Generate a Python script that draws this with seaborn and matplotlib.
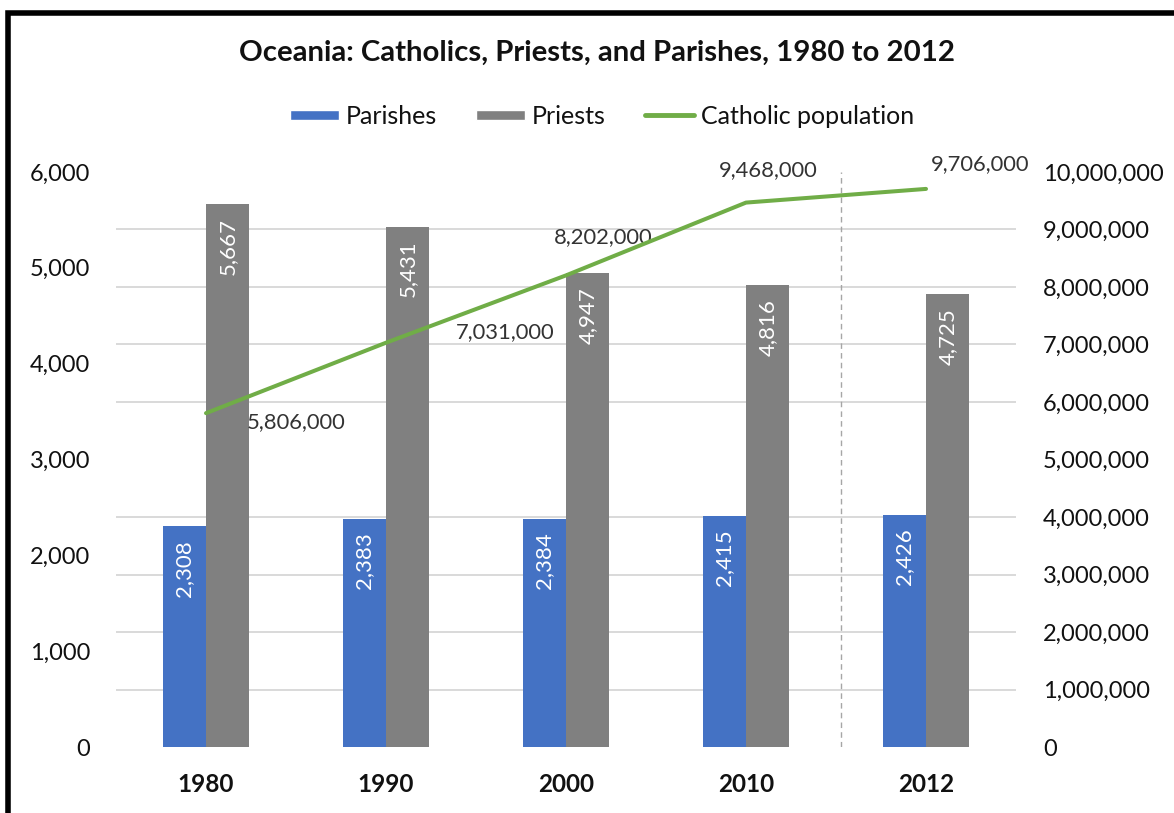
import numpy as np
import pandas as pd
import matplotlib
matplotlib.use("Agg")
import matplotlib.pyplot as plt
import seaborn as sns
from matplotlib.ticker import FuncFormatter, FixedLocator
from matplotlib.lines import Line2D
from matplotlib.patches import Patch, Rectangle
from matplotlib.legend_handler import HandlerPatch

# ---------------- data ----------------
years = ["1980", "1990", "2000", "2010", "2012"]
parishes = [2308, 2383, 2384, 2415, 2426]
priests = [5667, 5431, 4947, 4816, 4725]
population = [5806000, 7031000, 8202000, 9468000, 9706000]
series_names = ["Parishes", "Priests"]
line_name = "Catholic population"
title = "Oceania: Catholics, Priests, and Parishes, 1980 to 2012"
left_ticks = [0, 1000, 2000, 3000, 4000, 5000, 6000]
right_ticks = [0, 1000000, 2000000, 3000000, 4000000, 5000000,
               6000000, 7000000, 8000000, 9000000, 10000000]

# ---------------- style ----------------
BLUE = "#4472C4"
GRAY = "#808080"
GREEN = "#70AD47"
GRID = "#d9d9d9"
TXT = "#111111"
LBL = "#333333"

sns.set_style("white")
plt.rcParams["font.family"] = ["Lato", "DejaVu Sans"]

W, H = 1174, 813
fig = plt.figure(figsize=(W / 100, H / 100), dpi=100)
ax = fig.add_axes([116 / W, 1 - 747 / H, 900 / W, 575 / H])

df = pd.DataFrame({
    "year": years * 2,
    "series": [series_names[0]] * len(years) + [series_names[1]] * len(years),
    "value": parishes + priests,
})

sns.barplot(data=df, x="year", y="value", hue="series", hue_order=series_names,
            palette=[BLUE, GRAY], width=0.478, gap=0, saturation=1,
            linewidth=0, errorbar=None, legend=False, ax=ax, zorder=2)

ax.set_xlim(-0.5, 4.5)
ax.set_ylim(0, 6000)
ax.set_xlabel("")
ax.set_ylabel("")
ax.set_yticks(left_ticks)
ax.yaxis.set_major_formatter(FuncFormatter(lambda v, p: f"{int(v):,}"))
ax.yaxis.set_minor_locator(FixedLocator([v * 6000 / 10000000 for v in right_ticks]))
ax.yaxis.grid(True, which="minor", color=GRID, lw=1.4)
ax.yaxis.grid(False, which="major")
ax.xaxis.grid(False)
ax.set_axisbelow(True)
ax.tick_params(which="both", length=0)
ax.tick_params(axis="y", labelsize=17, labelcolor=TXT, pad=18.5)
ax.set_xticks(range(len(years)))
ax.set_xticklabels(years, fontweight="bold", fontsize=17.5, color=TXT)
ax.tick_params(axis="x", pad=19)
for s in ax.spines.values():
    s.set_visible(False)

ax.axvline(3.53, color="#a6a6a6", lw=1.0, ls=(0, (4, 3)), zorder=1)

# bar labels (inside end, rotated)
for container, vals in zip(ax.containers, [parishes, priests]):
    for bar, v in zip(container, vals):
        ax.annotate(f"{v:,}", (bar.get_x() + bar.get_width() / 2, bar.get_height()),
                    xytext=(0, -14), textcoords="offset pixels",
                    ha="center", va="top", rotation=90, color="white",
                    fontsize=16, zorder=3)

# secondary axis line
ax2 = ax.twinx()
sns.lineplot(x=np.arange(len(years)), y=population, ax=ax2, color=GREEN,
             lw=2.9, legend=False, zorder=4)
ax2.set_ylim(0, 10000000)
ax2.set_yticks(right_ticks)
ax2.yaxis.set_major_formatter(FuncFormatter(lambda v, p: f"{int(v):,}"))
ax2.tick_params(which="both", length=0)
ax2.tick_params(axis="y", labelsize=17, labelcolor=TXT, pad=19.5)
ax2.set_xlabel("")
ax2.set_ylabel("")
ax2.grid(False)
for s in ax2.spines.values():
    s.set_visible(False)
ax.set_xlim(-0.5, 4.5)

label_offsets = [(90, -9), (119, 11), (37, 38), (22, 32), (54, 25)]
for i, (v, off) in enumerate(zip(population, label_offsets)):
    ax2.annotate(f"{v:,}", (i, v), xytext=off, textcoords="offset pixels",
                 ha="center", va="center", fontsize=15.8, color=LBL)

# legend
def thin_bar(legend, orig_handle, xdescent, ydescent, width, height, fontsize):
    return Rectangle((-xdescent, -ydescent + height * 0.2), width, height * 0.6)

handles = [Patch(facecolor=BLUE), Patch(facecolor=GRAY),
           Line2D([0], [0], color=GREEN, lw=3.5)]
fig.legend(handles, series_names + [line_name], loc="center",
           bbox_to_anchor=(602 / W, 1 - 116 / H), ncol=3, frameon=False,
           fontsize=18, handlelength=1.95, handletextpad=0.3, columnspacing=1.55,
           handler_map={Patch: HandlerPatch(patch_func=thin_bar)},
           labelcolor=TXT)

fig.text(597 / W, 1 - 53 / H, title, ha="center", va="center",
         fontsize=21.2, fontweight="bold", color=TXT)

# outer frame (left and top edges visible)
fig.add_artist(Line2D([8 / W, 8 / W, 1.01], [-0.01, 1 - 13 / H, 1 - 13 / H],
                      transform=fig.transFigure, color="black", lw=4,
                      solid_joinstyle="miter"))

fig.savefig("out.png", dpi=100)
